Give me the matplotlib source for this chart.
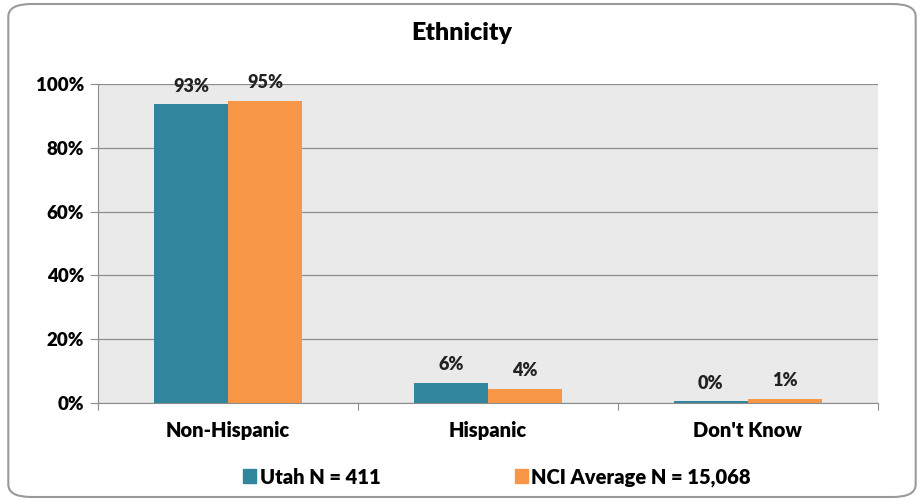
import matplotlib
matplotlib.use("Agg")
import matplotlib.pyplot as plt
import numpy as np
from matplotlib.patches import FancyBboxPatch, Rectangle

categories = ["Non-Hispanic", "Hispanic", "Don't Know"]
utah = [93.6, 6.3, 0.5]
nci = [94.7, 4.4, 1.3]
utah_labels = ["93%", "6%", "0%"]
nci_labels = ["95%", "4%", "1%"]
series_names = ["Utah N = 411", "NCI Average N = 15,068"]

teal = "#31859C"
orange = "#F79646"
font = ["Lato", "DejaVu Sans"]
wt = "heavy"

fig = plt.figure(figsize=(9.24, 5.01), dpi=100)
fig.patch.set_facecolor("white")

# rounded chart border
fig.patches.append(FancyBboxPatch((0.009, 0.008), 0.982, 0.984,
                                  boxstyle="round,pad=0,rounding_size=0.025",
                                  transform=fig.transFigure, fill=False,
                                  edgecolor="#9A9A9A", linewidth=1.5))

ax = fig.add_axes([0.106, 0.1956, 0.844, 0.6367])
ax.set_facecolor("#EAEAEA")

x = np.arange(len(categories))
w = 0.285
b1 = ax.bar(x - w / 2, utah, w, color=teal, zorder=3)
b2 = ax.bar(x + w / 2, nci, w, color=orange, zorder=3)

for bars, labs in ((b1, utah_labels), (b2, nci_labels)):
    for r, lab in zip(bars, labs):
        ax.text(r.get_x() + r.get_width() / 2, r.get_height() + 3, lab,
                ha="center", va="bottom", fontsize=13, fontweight=wt,
                family=font, color="#222222")

ax.set_xlim(-0.5, 2.5)
ax.set_ylim(0, 100)
ax.set_yticks(np.arange(0, 101, 20))
ax.set_yticklabels([f"{v}%" for v in range(0, 101, 20)], fontsize=13.5,
                   fontweight=wt, family=font)
ax.yaxis.grid(True, color="#8C8C8C", linewidth=0.9, zorder=0)
ax.set_axisbelow(True)

ax.set_xticks([-0.5, 0.5, 1.5, 2.5])
ax.set_xticklabels([])
ax.set_xticks(x, minor=True)
ax.set_xticklabels(categories, minor=True, fontsize=14.5, fontweight=wt,
                   family=font)
ax.tick_params(axis="x", which="minor", length=0, pad=13)
ax.tick_params(axis="x", which="major", length=5, color="#8C8C8C")
ax.tick_params(axis="y", length=6, color="#8C8C8C", pad=4)

for s in ("top", "right"):
    ax.spines[s].set_visible(False)
for s in ("left", "bottom"):
    ax.spines[s].set_color("#8C8C8C")

fig.text(0.5, 0.935, "Ethnicity", ha="center", va="center", fontsize=18,
         fontweight=wt, family=font)

# legend
fig.patches.append(Rectangle((0.263, 0.035), 0.014, 0.028, color=teal,
                             transform=fig.transFigure))
fig.text(0.281, 0.046, series_names[0], ha="left", va="center", fontsize=14.5,
         fontweight=wt, family=font)
fig.patches.append(Rectangle((0.557, 0.035), 0.014, 0.028, color=orange,
                             transform=fig.transFigure))
fig.text(0.575, 0.046, series_names[1], ha="left", va="center", fontsize=14.5,
         fontweight=wt, family=font)

fig.savefig("out.png", dpi=100)
